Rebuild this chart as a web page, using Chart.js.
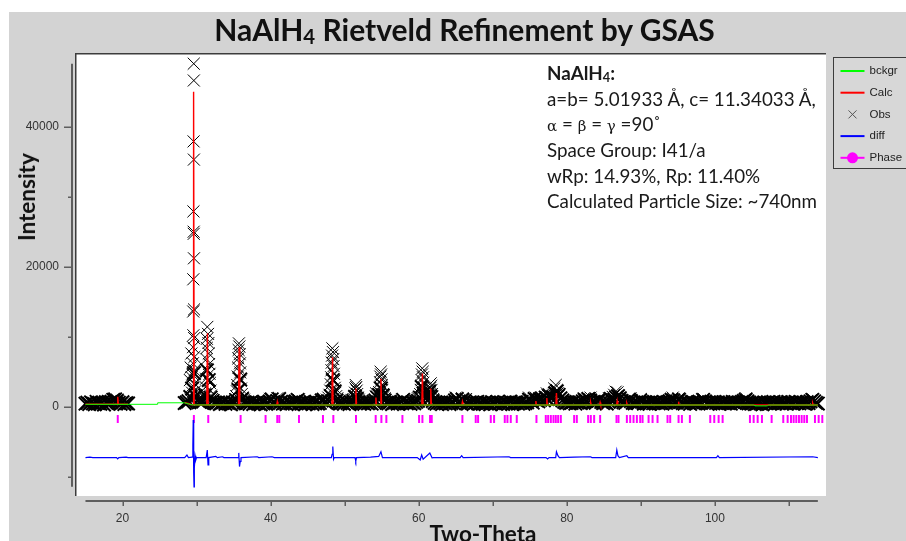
<!DOCTYPE html>
<html lang="en">
<head>
<meta charset="UTF-8">
<title>NaAlH4 Rietveld Refinement by GSAS</title>
<script src="https://cdn.jsdelivr.net/npm/chart.js@4"></script>
<style>
  html, body { margin: 0; padding: 0; background: #fff; }
  #frame { position: relative; width: 906px; height: 541px; overflow: hidden; }
  #panel { position: absolute; left: 9px; top: 12px; right: 0; bottom: 0; background: #d3d3d3; }
  #plot { position: absolute; left: 0; top: 0; width: 906px; height: 541px; }
  .txt { position: absolute; font-family: Lato, "Open Sans", sans-serif; color: #111; white-space: nowrap; }
  .sub { font-size: 68%; position: relative; top: 0.14em; line-height: 0; }
  #title { left: 0; width: 929px; top: 14px; text-align: center; font-size: 30px; line-height: 30px; font-weight: bold; }
  #ytitle { left: 27px; top: 197px; font-size: 22.5px; line-height: 24px; font-weight: bold;
            transform: translate(-50%, -50%) rotate(-90deg); }
  #xtitle { left: 483px; top: 523px; font-size: 22.5px; line-height: 22.5px; font-weight: bold; transform: translateX(-50%); }
  #info { left: 547px; top: 60px; font-size: 18.8px; color: #1a1a1a; }
  #info div { height: 25.7px; line-height: 25.7px; }
  #info .greek { font-family: "DejaVu Serif", serif; font-size: 15px; }
</style>
</head>
<body>
<div id="frame">
  <div id="panel"></div>
  <div id="plot"><canvas id="rietveld"></canvas></div>
  <div class="txt" id="title">NaAlH<span class="sub">4</span> Rietveld Refinement by GSAS</div>
  <div class="txt" id="ytitle">Intensity</div>
  <div class="txt" id="xtitle">Two-Theta</div>
  <div class="txt" id="info">
    <div><b>NaAlH<span class="sub">4</span>:</b></div>
    <div>a=b= 5.01933 Å, c= 11.34033 Å,</div>
    <div><span class="greek">α</span> = <span class="greek">β</span> = <span class="greek">γ</span> =90˚</div>
    <div>Space Group: I41/a</div>
    <div>wRp: 14.93%, Rp: 11.40%</div>
    <div>Calculated Particle Size: ~740nm</div>
  </div>
</div>

<script>
// step scan: two measured ranges, same step
const scanStart = [15.0, 28.4];
const scanStep = 0.25;

// observed counts on the step grid, 15.00 - 20.75
const obsLow = [430, 560, 380, 620, 470, 350, 690, 510, 420, 580, 300, 640, 480, 560, 720, 980, 1050, 820, 560, 410, 650, 370, 520, 460];

// observed counts on the step grid, 28.40 - 113.90
const obsMain = [
  520, 610, 780, 1400, 2600, 4800, 1500, 900, 700, 620, 750, 1600, 5200, 3800, 1300, 800, 560, 470, 610, 390,
  520, 660, 410, 580, 470, 350, 620, 540, 880, 2400, 3900, 1100, 640, 480, 560, 420, 700, 380, 510, 600,
  450, 330, 580, 690, 410, 520, 760, 1050, 640, 470, 820, 1100, 700, 430, 560, 380, 620, 510, 450, 690,
  760, 980, 560, 430, 610, 350, 520, 470, 640, 390, 580, 720, 450, 540, 880, 1000, 620, 480, 760, 1500,
  3800, 2200, 900, 620, 470, 560, 410, 690, 520, 380, 600, 820, 1400, 1100, 640, 480, 550, 420, 610, 500,
  590, 430, 720, 880, 1300, 1700, 2600, 1600, 900, 560, 470, 630, 380, 520, 610, 450, 540, 700, 980, 620,
  480, 560, 410, 620, 500, 690, 840, 1300, 2800, 1900, 1200, 1500, 2200, 1400, 800, 560, 430, 610, 520, 390,
  560, 470, 640, 380, 520, 610, 900, 1100, 760, 560, 1000, 820, 500, 430, 620, 540, 390, 580, 700, 460,
  530, 410, 620, 480, 560, 350, 640, 520, 430, 690, 470, 580, 400, 610, 540, 450, 720, 380, 510, 600,
  440, 560, 690, 410, 530, 620, 1000, 820, 580, 1100, 900, 760, 1000, 1200, 900, 1300, 1100, 1600, 1200, 1400,
  1900, 2200, 1700, 1200, 900, 700, 560, 620, 480, 540, 690, 430, 580, 610, 520, 760, 1000, 840, 1100, 900,
  620, 700, 560, 850, 1000, 680, 520, 610, 460, 700, 1100, 900, 1000, 1300, 1500, 1200, 820, 640, 540, 760,
  1000, 820, 560, 480, 620, 530, 900, 700, 450, 600, 540, 420, 680, 510, 580, 640, 470, 560, 430, 620,
  540, 650, 780, 1000, 880, 620, 760, 1000, 700, 520, 450, 610, 580, 400, 640, 530, 470, 600, 720, 560,
  980, 760, 520, 610, 450, 580, 700, 540, 620, 410, 560, 660, 480, 590, 520, 430, 680, 560, 470, 610,
  540, 700, 820, 1000, 760, 590, 450, 520, 380, 420, 560, 470, 350, 600, 510, 640, 430, 560, 700, 480,
  590, 520, 640, 470, 560, 430, 680, 520, 600, 450, 700, 540, 480, 620, 560, 430, 650, 520, 760, 980,
  760, 540, 450
];

// finely sampled observed points on the Bragg peaks [2theta, counts]
const obsPeaks = [
  [29.62, 49000], [29.63, 46600], [29.60, 37900], [29.64, 35300], [29.58, 27900], [29.61, 25000], [29.62, 24700],
  [29.65, 21200], [29.56, 18200], [29.66, 13900], [29.55, 13600], [29.57, 10200], [29.68, 9800], [29.52, 8500],
  [29.70, 7100], [29.50, 6200], [29.72, 5200], [29.47, 4600], [29.75, 3300], [29.44, 3000], [29.80, 2200],
  [29.40, 2000], [29.85, 1600], [29.30, 1400], [29.95, 1200], [29.20, 1000], [30.10, 900], [30.30, 1100],
  [29.10, 3800], [29.20, 5600], [29.30, 7600], [29.35, 4200],
  [31.45, 11400], [31.55, 10400], [31.40, 9700], [31.60, 9100], [31.38, 8400], [31.65, 7600], [31.35, 6800],
  [31.70, 6100], [31.32, 5400], [31.75, 4700], [31.28, 4000], [31.80, 3400], [31.22, 2800], [31.88, 2300],
  [31.15, 1900], [31.95, 1600], [31.05, 1300], [32.10, 1100], [30.90, 1000], [32.30, 900],
  [35.72, 9050], [35.78, 8600], [35.68, 8100], [35.82, 7500], [35.64, 6900], [35.86, 6200], [35.60, 5600],
  [35.90, 4900], [35.56, 4300], [35.95, 3700], [35.50, 3100], [36.00, 2600], [35.45, 2200], [36.10, 1800],
  [35.35, 1500], [36.20, 1300], [35.20, 1100], [36.40, 1000],
  [48.34, 8340], [48.42, 7800], [48.30, 7300], [48.46, 6800], [48.26, 6300], [48.50, 5800], [48.22, 5200],
  [48.55, 4700], [48.18, 4200], [48.60, 3700], [48.12, 3200], [48.66, 2700], [48.05, 2300], [48.75, 2000],
  [47.95, 1700], [48.85, 1500], [47.80, 1300], [49.00, 1200], [47.60, 1000], [49.30, 900],
  [51.50, 3100], [51.56, 2800], [51.45, 2600], [51.62, 2300], [51.40, 2000], [51.68, 1800], [51.33, 1500],
  [51.76, 1300], [51.20, 1100], [51.90, 1000],
  [54.86, 5000], [54.92, 4600], [54.82, 4300], [54.96, 3900], [54.78, 3500], [55.02, 3100], [54.72, 2700],
  [55.08, 2400], [54.65, 2100], [55.15, 1800], [54.55, 1600], [55.25, 1400], [54.40, 1300], [55.40, 1200],
  [54.20, 1500], [54.25, 1900],
  [60.48, 5480], [60.54, 5000], [60.44, 4600], [60.58, 4200], [60.40, 3800], [60.62, 3400], [60.35, 3000],
  [60.68, 2700], [60.28, 2400], [60.75, 2100], [60.20, 1800], [60.85, 1600], [60.05, 1400], [61.00, 1300],
  [59.90, 1200],
  [61.62, 3340], [61.68, 3000], [61.58, 2700], [61.72, 2400], [61.54, 2100], [61.78, 1800], [61.48, 1600],
  [61.85, 1400], [61.40, 1200], [61.95, 1100],
  [78.50, 3100], [78.30, 2600], [78.65, 2400], [78.40, 2100], [78.75, 1900], [78.20, 1700], [78.90, 1500],
  [78.00, 1400], [79.10, 1300], [77.30, 1900], [77.40, 1600], [77.20, 1400],
  [86.60, 2150], [86.85, 2050], [86.40, 1700], [87.00, 1600], [86.20, 1400], [87.20, 1300],
  [18.85, 1050], [19.00, 900], [19.30, 1000],
  [39.90, 1100], [40.90, 1200], [43.80, 1000], [47.10, 1000], [57.80, 1000], [65.00, 1300], [65.90, 1200],
  [66.40, 1100], [74.90, 1300], [75.80, 1300], [76.30, 1200], [82.30, 1200], [83.20, 1300], [84.50, 1100],
  [85.70, 1200], [88.60, 1200], [90.00, 1100], [94.30, 1300], [95.10, 1200], [98.50, 1100], [104.20, 1200],
  [113.20, 1100]
];

// calculated profile [2theta, counts]; null breaks the line over the excluded range
const calcPts = [
  [15.0, 340], [19.28, 340], [19.36, 1430], [19.44, 340], [20.75, 340], [24.0, null],
  [28.4, 560], [29.0, 420], [29.4, 260], [29.52, 260], [29.6, 45000], [29.68, 260],
  [31.38, 250], [31.47, 10500], [31.56, 250], [35.66, 245], [35.75, 8500], [35.84, 245],
  [40.82, 240], [40.9, 700], [40.98, 240], [48.28, 240], [48.36, 7070], [48.44, 240],
  [51.44, 240], [51.52, 2600], [51.6, 240], [54.15, 240], [54.22, 1300], [54.29, 240],
  [54.82, 240], [54.9, 4000], [54.98, 240], [60.42, 240], [60.5, 4730], [60.58, 240],
  [61.55, 240], [61.63, 2600], [61.71, 240], [65.82, 240], [65.9, 700], [65.98, 240],
  [75.75, 240], [75.82, 800], [75.9, 240], [77.22, 240], [77.3, 1240], [77.38, 240],
  [78.52, 240], [78.6, 1950], [78.68, 240], [83.15, 240], [83.22, 600], [83.3, 240],
  [84.42, 240], [84.5, 600], [84.58, 240], [86.72, 240], [86.8, 800], [86.88, 240],
  [88.02, 240], [88.1, 500], [88.18, 240], [95.02, 240], [95.1, 700], [95.18, 240],
  [105.3, 240], [107.2, 240], [113.12, 240], [113.2, 500], [113.28, 240], [113.9, 240]
];

// refined background [2theta, counts]
const bckgrPts = [
  [15.0, 340], [24.7, 340], [24.75, 560], [28.4, 560], [29.4, 250], [40.0, 240],
  [105.3, 240], [105.4, 120], [107.1, 120], [107.2, 240], [113.9, 240]
];

// obs - calc, plotted with its offset [2theta, counts]
const diffPts = [
  [15.0, -7270], [15.6, -7200], [16.0, -7270], [19.2, -7270], [19.35, -7450], [19.5, -7270], [20.5, -7200],
  [20.75, -7270], [28.4, -7270], [28.7, -6900], [28.9, -7270], [29.4, -7200], [29.5, -5500], [29.55, -1900],
  [29.6, -4500], [29.63, -9500], [29.66, -11450], [29.7, -8800], [29.8, -7000], [29.9, -7600], [30.0, -7270],
  [31.3, -7270], [31.45, -6200], [31.55, -8300], [31.65, -7270], [32.6, -7100], [32.8, -7270], [33.5, -7150],
  [33.7, -7270], [35.6, -7270], [35.7, -6600], [35.8, -8550], [35.9, -7800], [36.0, -7270], [38.2, -7150],
  [38.4, -7270], [40.2, -7150], [40.5, -7270], [48.2, -7270], [48.3, -6800], [48.4, -5700], [48.5, -7500],
  [48.6, -7270], [51.4, -7270], [51.5, -7760], [51.6, -7270], [53.5, -7200], [54.6, -7100], [54.9, -6430],
  [55.1, -7270], [59.8, -7270], [60.2, -7610], [60.4, -6900], [60.6, -7500], [61.5, -6620], [61.8, -7300],
  [62.0, -7270], [65.6, -7270], [65.8, -7000], [66.0, -7270], [72.2, -7150], [72.4, -7270], [77.2, -7270],
  [77.4, -7450], [77.6, -7270], [78.5, -7270], [78.6, -6430], [78.8, -7000], [79.0, -7270], [81.0, -7200],
  [83.2, -7150], [83.4, -7270], [86.6, -7270], [86.75, -6190], [86.9, -7000], [87.1, -7270], [88.1, -7000],
  [88.3, -7270], [100.2, -7270], [100.4, -7000], [100.6, -7270], [113.2, -7150], [113.9, -7270]
];

// NaAlH4 reflection positions (2theta)
const phaseTicks = [
  19.36, 29.64, 31.58, 35.95, 39.32, 40.90, 41.17, 43.83, 47.07, 48.47, 51.53, 54.19, 54.96, 55.63, 57.80,
  60.05, 60.50, 61.53, 61.76, 65.90, 67.70, 68.02, 69.73, 70.18, 71.62, 71.98, 72.43, 73.24, 75.90, 77.16,
  77.48, 77.84, 78.20, 78.51, 78.83, 79.19, 80.99, 81.35, 82.88, 83.24, 83.69, 84.50, 86.71, 86.98, 88.11,
  88.56, 89.01, 89.46, 89.91, 90.23, 91.04, 91.58, 92.25, 93.60, 93.96, 95.09, 95.54, 96.62, 99.37, 99.91,
  100.50, 101.04, 104.73, 105.23, 105.77, 106.35, 107.66, 109.23, 109.82, 110.27, 110.63, 110.99, 111.35,
  111.71, 112.07, 112.43, 113.51, 114.01, 114.50
];
const phaseLevel = -1760;

// axis ticks; only the labelled ones carry text
const xTicks = [20, 30, 40, 50, 60, 70, 80, 90, 100, 110];
const xTickLabels = [20, 40, 60, 80, 100];
const yTicks = [-10000, 0, 10000, 20000, 30000, 40000, 50000];
const yTickLabels = [0, 20000, 40000];

const toXY = pts => pts.map(p => ({ x: p[0], y: p[1] }));

const obsData = [];
[obsLow, obsMain].forEach((counts, s) => {
  counts.forEach((y, i) => obsData.push({ x: +(scanStart[s] + i * scanStep).toFixed(2), y }));
});
const gridCount = obsData.length;
obsPeaks.forEach(p => obsData.push({ x: p[0], y: p[1] }));

// extent of the data, used for the axis lines
const xs = obsData.map(p => p.x);
const allY = obsData.map(p => p.y).concat(diffPts.map(p => p[1]));
const dataExt = { xMin: Math.min(...xs), xMax: Math.max(...xs), yMin: Math.min(...allY), yMax: Math.max(...allY) };

const legendItems = [
  { label: 'bckgr', kind: 'line', color: '#00ff00' },
  { label: 'Calc', kind: 'line', color: '#ff0000' },
  { label: 'Obs', kind: 'cross', color: '#555' },
  { label: 'diff', kind: 'line', color: '#0000ff' },
  { label: 'Phase', kind: 'dot', color: '#ff00ff' }
];

// white frame, detached axes and the side legend, drawn the way GSAS does
const gsasFrame = {
  id: 'gsasFrame',
  beforeDraw(chart) {
    const { ctx, chartArea: a } = chart;
    ctx.save();
    ctx.fillStyle = '#ffffff';
    ctx.fillRect(a.left + 3, a.top, a.right - a.left - 3, a.bottom - 5 - a.top);
    ctx.strokeStyle = '#3c3c3c';
    ctx.lineWidth = 1.5;
    ctx.beginPath();
    ctx.moveTo(a.left + 3.75, a.bottom - 5);
    ctx.lineTo(a.left + 3.75, a.top + 0.75);
    ctx.lineTo(a.right, a.top + 0.75);
    ctx.stroke();
    ctx.restore();
  },
  afterDraw(chart) {
    const { ctx, chartArea: a } = chart;
    const xs = chart.scales.x, ys = chart.scales.y;
    ctx.save();
    ctx.strokeStyle = '#5e5e5e';
    ctx.lineWidth = 2;
    ctx.beginPath();
    ctx.moveTo(xs.getPixelForValue(dataExt.xMin), a.bottom);
    ctx.lineTo(xs.getPixelForValue(dataExt.xMax), a.bottom);
    ctx.moveTo(a.left, ys.getPixelForValue(dataExt.yMax));
    ctx.lineTo(a.left, ys.getPixelForValue(dataExt.yMin));
    ctx.stroke();
    ctx.lineWidth = 1.5;
    ctx.beginPath();
    xTicks.forEach(v => {
      if (v < dataExt.xMin || v > dataExt.xMax) return;
      const px = Math.round(xs.getPixelForValue(v)) + 0.25;
      ctx.moveTo(px, a.bottom);
      ctx.lineTo(px, a.bottom + 5);
    });
    yTicks.forEach(v => {
      if (v < dataExt.yMin || v > dataExt.yMax) return;
      const py = Math.round(ys.getPixelForValue(v)) + 0.25;
      const len = yTickLabels.includes(v) ? 8 : 4;
      ctx.moveTo(a.left - len, py);
      ctx.lineTo(a.left, py);
    });
    ctx.stroke();

    // legend box at the right of the frame
    const bx = a.right + 7.5, by = a.top + 4.5;
    ctx.fillStyle = '#d7d7d7';
    ctx.fillRect(bx, by, chart.width - bx + 5, 111);
    ctx.strokeStyle = '#3c3c3c';
    ctx.lineWidth = 1;
    ctx.strokeRect(bx, by, chart.width - bx + 5, 111);
    ctx.font = '11.5px "Liberation Sans", Arial, sans-serif';
    ctx.textBaseline = 'middle';
    legendItems.forEach((it, i) => {
      const y = by + 13.5 + i * 21.7;
      const x0 = bx + 7, x1 = bx + 31, xm = (x0 + x1) / 2;
      if (it.kind === 'cross') {
        ctx.strokeStyle = it.color;
        ctx.lineWidth = 1;
        ctx.beginPath();
        ctx.moveTo(xm - 4, y - 4); ctx.lineTo(xm + 4, y + 4);
        ctx.moveTo(xm - 4, y + 4); ctx.lineTo(xm + 4, y - 4);
        ctx.stroke();
      } else {
        ctx.strokeStyle = it.color;
        ctx.lineWidth = 2;
        ctx.beginPath();
        ctx.moveTo(x0, y); ctx.lineTo(x1, y);
        ctx.stroke();
        if (it.kind === 'dot') {
          ctx.fillStyle = it.color;
          ctx.beginPath();
          ctx.arc(xm, y, 5.5, 0, Math.PI * 2);
          ctx.fill();
        }
      }
      ctx.fillStyle = '#222';
      ctx.fillText(it.label, bx + 36, y);
    });
    ctx.restore();
  }
};

const tickFont = { family: '"Liberation Sans", Arial, sans-serif', size: 12 };

new Chart(document.getElementById('rietveld'), {
  type: 'scatter',
  data: {
    datasets: [
      {
        label: 'bckgr', data: toXY(bckgrPts), showLine: true, order: 0,
        borderColor: '#00ff00', borderWidth: 1, pointRadius: 0
      },
      {
        label: 'Calc', data: toXY(calcPts), showLine: true, spanGaps: false, order: 1,
        borderColor: '#ff0000', borderWidth: 1.4, pointRadius: 0
      },
      {
        label: 'diff', data: toXY(diffPts), showLine: true, order: 2,
        borderColor: '#0000ff', borderWidth: 1.2, pointRadius: 0
      },
      {
        label: 'Phase', data: phaseTicks.map(x => ({ x, y: phaseLevel })), order: 3,
        pointStyle: 'line', rotation: 90, pointRadius: 4, borderColor: '#ff00ff', borderWidth: 2
      },
      {
        label: 'Obs', data: obsData, order: 4,
        pointStyle: 'crossRot', borderColor: '#000', backgroundColor: 'transparent',
        // the dense step-scan points merge into a solid band, peak points stay thin
        pointRadius: c => (c.dataIndex < gridCount ? 9.5 : 8.5),
        borderWidth: c => (c.dataIndex < gridCount ? 2 : 1)
      }
    ]
  },
  options: {
    responsive: true,
    maintainAspectRatio: false,
    animation: false,
    events: [],
    layout: { padding: { top: 53, right: 80, left: 0, bottom: 0 } },
    plugins: { legend: { display: false }, tooltip: { enabled: false } },
    scales: {
      x: {
        type: 'linear', min: 13.18, max: 115.0,
        afterFit: s => { s.height = 40; },
        afterBuildTicks: s => { s.ticks = xTicks.map(value => ({ value })); },
        grid: { display: false, drawTicks: true, tickLength: 5 },
        border: { display: false },
        ticks: {
          autoSkip: false, maxRotation: 0, padding: 5, color: '#333', font: tickFont,
          callback: v => (xTickLabels.includes(v) ? String(v) : '')
        }
      },
      y: {
        type: 'linear', min: -13471, max: 50529,
        afterFit: s => { s.width = 72; },
        afterBuildTicks: s => { s.ticks = yTicks.map(value => ({ value })); },
        grid: { display: false, drawTicks: true, tickLength: 8 },
        border: { display: false },
        ticks: {
          autoSkip: false, padding: 5, color: '#333', font: tickFont,
          callback: v => (yTickLabels.includes(v) ? String(v) : '')
        }
      }
    }
  },
  plugins: [gsasFrame]
});
</script>
</body>
</html>
